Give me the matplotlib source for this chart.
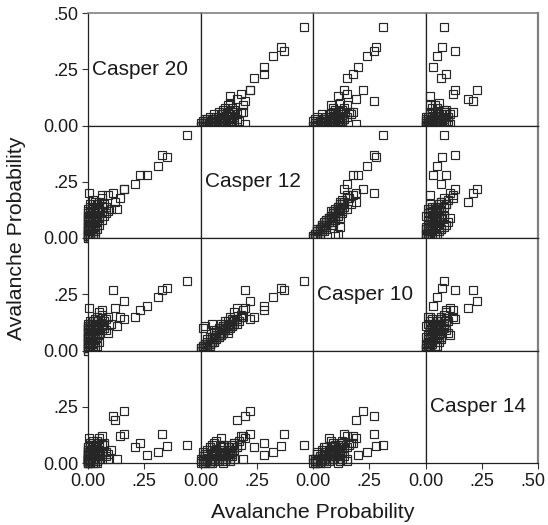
import matplotlib
matplotlib.use("Agg")
import matplotlib.pyplot as plt
import matplotlib.transforms as mtransforms

plt.rcParams['font.family'] = ['Liberation Sans', 'DejaVu Sans']

var_names = ["Casper 20", "Casper 12", "Casper 10", "Casper 14"]

# Avalanche probabilities for each observation (one value per variable)
casper20 = [0.44, 0.35, 0.33, 0.31, 0.26, 0.23, 0.21, 0.16, 0.16, 0.14, 0.13, 0.12, 0.11, 0.06, 0.005,
            0.00, 0.00, 0.01, 0.00, 0.01, 0.00, 0.01, 0.02, 0.00, 0.01, 0.02, 0.00, 0.01, 0.03, 0.00,
            0.02, 0.01, 0.03, 0.00, 0.02, 0.04, 0.01, 0.03, 0.00, 0.02, 0.05, 0.01, 0.03, 0.04, 0.02,
            0.00, 0.05, 0.03, 0.06, 0.04, 0.07, 0.05, 0.02, 0.06, 0.07, 0.08, 0.04, 0.05, 0.01, 0.00,
            0.03, 0.06, 0.09, 0.10, 0.08, 0.02, 0.01, 0.00, 0.04, 0.06, 0.03, 0.09, 0.05,
            0.00, 0.01, 0.00, 0.02, 0.01, 0.00, 0.01, 0.02, 0.00, 0.01, 0.00, 0.02, 0.01, 0.03, 0.00,
            0.01, 0.02, 0.00, 0.01, 0.00, 0.03, 0.04, 0.05, 0.02, 0.00, 0.01, 0.02, 0.00, 0.01, 0.03,
            0.00, 0.01, 0.02, 0.00, 0.01, 0.04, 0.02, 0.01, 0.00, 0.03]
casper12 = [0.46, 0.36, 0.37, 0.32, 0.28, 0.28, 0.24, 0.22, 0.22, 0.18, 0.13, 0.16, 0.20, 0.19, 0.20,
            0.00, 0.01, 0.00, 0.02, 0.01, 0.01, 0.03, 0.02, 0.03, 0.04, 0.04, 0.05, 0.05, 0.05, 0.06,
            0.06, 0.07, 0.07, 0.08, 0.08, 0.08, 0.09, 0.09, 0.10, 0.10, 0.10, 0.11, 0.11, 0.12, 0.12,
            0.13, 0.13, 0.14, 0.14, 0.15, 0.15, 0.16, 0.17, 0.12, 0.10, 0.11, 0.07, 0.09, 0.06, 0.04,
            0.03, 0.08, 0.12, 0.13, 0.14, 0.05, 0.02, 0.01, 0.13, 0.18, 0.16, 0.19, 0.15,
            0.02, 0.03, 0.04, 0.05, 0.06, 0.07, 0.08, 0.09, 0.10, 0.11, 0.12, 0.13, 0.14, 0.06, 0.05,
            0.04, 0.03, 0.02, 0.01, 0.00, 0.02, 0.04, 0.06, 0.07, 0.09, 0.10, 0.11, 0.08, 0.09, 0.12,
            0.03, 0.05, 0.01, 0.06, 0.07, 0.09, 0.14, 0.15, 0.11, 0.10]
casper10 = [0.31, 0.28, 0.27, 0.24, 0.20, 0.18, 0.15, 0.14, 0.22, 0.15, 0.11, 0.19, 0.27, 0.18, 0.19,
            0.00, 0.01, 0.01, 0.01, 0.02, 0.00, 0.02, 0.03, 0.02, 0.03, 0.03, 0.04, 0.04, 0.05, 0.04,
            0.05, 0.06, 0.05, 0.06, 0.07, 0.06, 0.07, 0.08, 0.08, 0.09, 0.08, 0.09, 0.10, 0.09, 0.10,
            0.11, 0.10, 0.11, 0.12, 0.12, 0.13, 0.12, 0.13, 0.11, 0.10, 0.09, 0.08, 0.07, 0.09, 0.06,
            0.04, 0.09, 0.08, 0.12, 0.14, 0.12, 0.11, 0.10, 0.15, 0.16, 0.14, 0.15, 0.17,
            0.02, 0.03, 0.03, 0.04, 0.05, 0.06, 0.07, 0.07, 0.09, 0.10, 0.11, 0.12, 0.12, 0.06, 0.05,
            0.05, 0.02, 0.03, 0.02, 0.01, 0.01, 0.02, 0.04, 0.07, 0.08, 0.11, 0.13, 0.10, 0.12, 0.13,
            0.05, 0.06, 0.00, 0.08, 0.09, 0.10, 0.11, 0.13, 0.12, 0.11]
casper14 = [0.08, 0.075, 0.13, 0.05, 0.035, 0.09, 0.07, 0.13, 0.23, 0.12, 0.02, 0.19, 0.21, 0.12, 0.11,
            0.00, 0.00, 0.01, 0.00, 0.01, 0.02, 0.01, 0.00, 0.02, 0.01, 0.02, 0.01, 0.03, 0.02, 0.02,
            0.01, 0.03, 0.04, 0.02, 0.03, 0.05, 0.04, 0.03, 0.05, 0.04, 0.06, 0.02, 0.05, 0.07, 0.03,
            0.06, 0.04, 0.08, 0.05, 0.06, 0.09, 0.07, 0.10, 0.03, 0.08, 0.05, 0.10, 0.11, 0.09, 0.07,
            0.06, 0.02, 0.04, 0.06, 0.03, 0.08, 0.04, 0.03, 0.01, 0.08, 0.07, 0.02, 0.09,
            0.01, 0.02, 0.00, 0.03, 0.02, 0.04, 0.01, 0.03, 0.02, 0.04, 0.05, 0.03, 0.06, 0.05, 0.06,
            0.07, 0.04, 0.03, 0.05, 0.02, 0.01, 0.00, 0.02, 0.06, 0.07, 0.08, 0.05, 0.04, 0.03, 0.07,
            0.01, 0.00, 0.02, 0.03, 0.05, 0.06, 0.04, 0.02, 0.01, 0.00]

data = [casper20, casper12, casper10, casper14]

axis_label = "Avalanche Probability"
tick_values = [0.0, 0.25, 0.5]
tick_labels = ["0.00", ".25", ".50"]

fig = plt.figure(figsize=(5.48, 5.25), dpi=100)
n = len(data)
gs = fig.add_gridspec(n, n, left=88/548, right=538/548, top=1-13/525, bottom=1-463/525,
                      wspace=0, hspace=0)

for i in range(n):
    for j in range(n):
        ax = fig.add_subplot(gs[i, j])
        ax.set_xlim(0, 0.5)
        ax.set_ylim(0, 0.5)
        for s in ax.spines.values():
            s.set_color('#222222')
            s.set_linewidth(0.9)
        if j == n - 1:
            ax.spines['right'].set_color('#808080')
            ax.spines['right'].set_linewidth(1.6)
        if i == 0:
            ax.spines['top'].set_color('#808080')
            ax.spines['top'].set_linewidth(1.2)
        if i == j:
            ax.text(0.02, 0.25, var_names[i], fontsize=15, ha='left', va='center', color='#1a1a1a')
        else:
            ax.plot(data[j], data[i], linestyle='none', marker='s', markersize=5.2,
                    markerfacecolor='none', markeredgecolor='#262626', markeredgewidth=0.85,
                    clip_on=False, zorder=3)
        # ticks
        if j == 0:
            k = 3 if i == 0 else 2
            ax.set_yticks(tick_values[:k])
            ax.set_yticklabels(tick_labels[:k])
        else:
            ax.set_yticks([])
        if i == n - 1:
            k = 3 if j == n - 1 else 2
            ax.set_xticks(tick_values[:k])
            ax.set_xticklabels(tick_labels[:k])
        else:
            ax.set_xticks([])
        ax.tick_params(axis='both', direction='out', length=4, width=0.8, color='#333333',
                       labelsize=13, labelcolor='#1a1a1a', pad=3)
        if i == n - 1 and j == n - 1:
            fig.canvas.draw()
            last = ax.get_xticklabels()[-1]
            last.set_transform(last.get_transform() +
                               mtransforms.ScaledTranslation(-5 / 100, 0, fig.dpi_scale_trans))

fig.text((88 + 538) / 2 / 548, 1 - 513 / 525, axis_label, ha='center', va='center',
         fontsize=15.3, color='#1a1a1a')
fig.text(17 / 548, 1 - 238 / 525, axis_label, ha='center', va='center', rotation=90,
         fontsize=15.3, color='#1a1a1a')

fig.savefig("out.png", dpi=100)
